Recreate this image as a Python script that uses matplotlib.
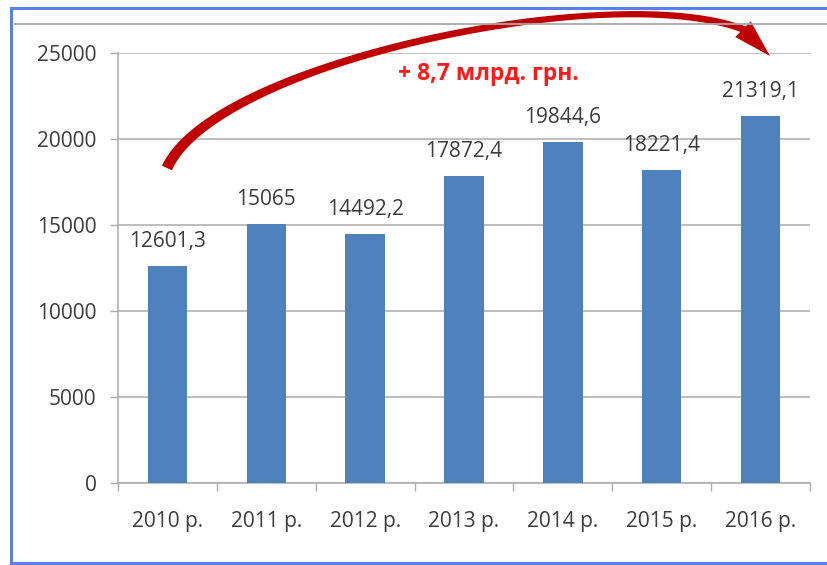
import numpy as np
import matplotlib
matplotlib.use('Agg')
import matplotlib.pyplot as plt
from matplotlib.patches import Polygon

plt.rcParams['font.family'] = ['Open Sans', 'DejaVu Sans']

# data
years = ['2010 р.', '2011 р.', '2012 р.', '2013 р.', '2014 р.', '2015 р.', '2016 р.']
values = [12601.3, 15065, 14492.2, 17872.4, 19844.6, 18221.4, 21319.1]
value_labels = ['12601,3', '15065', '14492,2', '17872,4', '19844,6', '18221,4', '21319,1']
growth_text = '+ 8,7 млрд. грн.'

bar_color = '#4F81BD'
text_color = '#3C3C3C'
grid_color = '#ABABAB'

W, H = 827, 565
fig = plt.figure(figsize=(W / 100, H / 100), dpi=100)
fig.patch.set_facecolor('white')

# main chart area (pixel box 118..810 x 53..483)
ax = fig.add_axes([118 / W, 1 - 483 / H, 692 / W, 430 / H])
x = np.arange(len(years))
ax.bar(x, values, width=0.4, color=bar_color, zorder=3)

ax.set_xlim(-0.5, len(years) - 0.5)
ax.set_ylim(0, 25000)
ax.set_yticks(np.arange(0, 25001, 5000))
ax.yaxis.grid(True, color=grid_color, linewidth=1.1, zorder=0)
ax.set_axisbelow(True)

# category boundaries get the tick marks, labels sit between them
ax.set_xticks(np.arange(-0.5, len(years), 1.0))
ax.set_xticklabels([])
ax.set_xticks(x, minor=True)
ax.set_xticklabels(years, minor=True)
ax.tick_params(axis='x', which='major', length=6, width=1, color=grid_color, direction='out')
ax.tick_params(axis='x', which='minor', length=0, pad=20, labelsize=15, labelcolor=text_color)
ax.tick_params(axis='y', length=6, width=1, color=grid_color, pad=9.4,
               labelsize=15, labelcolor=text_color)

for side in ['top', 'right']:
    ax.spines[side].set_visible(False)
for side in ['left', 'bottom']:
    ax.spines[side].set_color(grid_color)
    ax.spines[side].set_linewidth(1.1)

# value labels above the bars
for xi, v, lab in zip(x, values, value_labels):
    ax.annotate(lab, (xi, v), xytext=(0, 13.7), textcoords='offset points',
                ha='center', va='baseline', fontsize=15, color=text_color)

ax.text(3.25, 23430, growth_text, ha='center', va='baseline', fontsize=16.5,
        fontweight='bold', color='#FF1A1A', zorder=6)

# overlay in pixel coordinates for the frame and the curved arrow
ov = fig.add_axes([0, 0, 1, 1], zorder=5)
ov.set_xlim(0, W)
ov.set_ylim(H, 0)
ov.axis('off')
ov.patch.set_alpha(0)

blue = '#5A80F0'
ov.plot([11, W], [8, 8], color=blue, lw=2.2)
ov.plot([11, 11], [8, 563], color=blue, lw=2.2)
ov.plot([11, W], [563, 563], color=blue, lw=2.2)
ov.plot([15, W], [24, 24], color='#A8A8A8', lw=1.3)

# curved arrow: cubic bezier shaft with tapering width plus a head
P = np.array([[167, 168], [215, 60], [630, -25], [752, 33]], dtype=float)
t = np.linspace(0, 1, 300)[:, None]
B = ((1 - t) ** 3) * P[0] + 3 * t * (1 - t) ** 2 * P[1] + 3 * t ** 2 * (1 - t) * P[2] + t ** 3 * P[3]
dB = 3 * (1 - t) ** 2 * (P[1] - P[0]) + 6 * t * (1 - t) * (P[2] - P[1]) + 3 * t ** 2 * (P[3] - P[2])
nrm = np.column_stack([-dB[:, 1], dB[:, 0]])
nrm /= np.linalg.norm(nrm, axis=1)[:, None]
wid = np.interp(t[:, 0], [0, 0.35, 0.7, 1.0], [11, 7.5, 6, 7])
left = B + nrm * wid[:, None] / 2
right = B - nrm * wid[:, None] / 2
shaft = np.vstack([left, right[::-1]])
ov.add_patch(Polygon(shaft, closed=True, facecolor='#C00000', edgecolor='none'))

tip = np.array([770, 56])
base = B[-8]
d = tip - base
d /= np.linalg.norm(d)
perp = np.array([-d[1], d[0]])
head = np.array([base + perp * 11, tip, base - perp * 11])
ov.add_patch(Polygon(head, closed=True, facecolor='#C00000', edgecolor='none'))

fig.savefig('out.png', dpi=100)
